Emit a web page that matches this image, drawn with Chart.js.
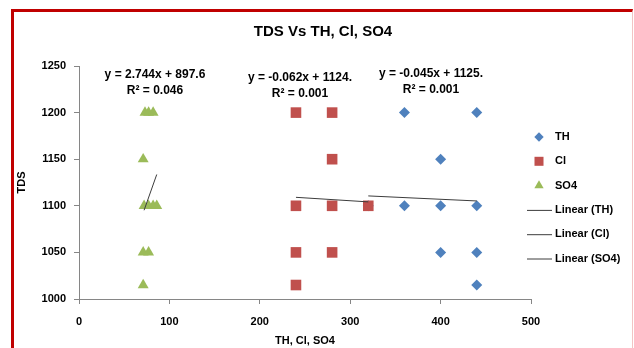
<!DOCTYPE html>
<html>
<head>
<meta charset="utf-8">
<script src="https://cdn.jsdelivr.net/npm/chart.js@4.4.0/dist/chart.umd.min.js"></script>
<style>
body { margin: 0; background: #fff; }
#korniza {
    position: absolute; left: 11px; top: 9px;
    width: 618px; height: 345px;
    border-left: 3px solid #c00000; border-top: 3px solid #c00000;
    border-right: 1px solid #f2c4c4;
}
canvas { display: block; }
</style>
</head>
<body>
<div id="korniza"><canvas id="grafiku" width="618" height="336"></canvas></div>
<script>
// te dhenat e lexuara nga grafiku
const thX = [320, 360, 360, 400, 400, 400, 440, 440, 440, 440];
const thY = [1100, 1200, 1100, 1150, 1100, 1050, 1200, 1100, 1050, 1015];
const clX = [240, 240, 240, 240, 280, 280, 280, 280, 320];
const clY = [1200, 1100, 1050, 1015, 1200, 1150, 1100, 1050, 1100];
const so4X = [73, 77, 82, 71, 72, 77, 82, 86, 71, 77, 71];
const so4Y = [1200, 1200, 1200, 1150, 1100, 1100, 1100, 1100, 1050, 1050, 1015];

// vijat e trendit (skajet)
const thTrendX = [320, 440];
const thTrendY = [1110.6, 1105.2];
const clTrendX = [240, 320];
const clTrendY = [1109.1, 1104.2];
const so4TrendX = [72, 86];
const so4TrendY = [1095.2, 1133.6];

const ekuacionet = [
    ['y = 2.744x + 897.6', 'R² = 0.046'],
    ['y = -0.062x + 1124.', 'R² = 0.001'],
    ['y = -0.045x + 1125.', 'R² = 0.001']
];

const fonti = "'Liberation Sans', Arial, sans-serif";
const ngjyraTrend = '#3c3c3c';

function pika(xs, ys) {
    return xs.map((x, i) => ({ x: x, y: ys[i] }));
}

const legjendaPlugin = {
    id: 'legjenda',
    afterDraw(chart, args, opts) {
        const ctx = chart.ctx;
        ctx.save();
        ctx.font = 'bold 11px ' + fonti;
        ctx.textBaseline = 'middle';
        chart.data.datasets.forEach((ds, i) => {
            const y = opts.top + i * opts.step;
            if (ds.showLine) {
                ctx.strokeStyle = ds.borderColor;
                ctx.lineWidth = 1;
                ctx.beginPath();
                ctx.moveTo(opts.lineX, y + 0.5);
                ctx.lineTo(opts.lineX + 25, y + 0.5);
                ctx.stroke();
            } else {
                ctx.fillStyle = ds.backgroundColor;
                Chart.helpers.drawPoint(ctx, {
                    pointStyle: ds.pointStyle,
                    radius: ds.pointRadius * 0.85,
                    borderWidth: 0,
                    rotation: 0
                }, opts.markerX, y);
            }
            ctx.fillStyle = '#000';
            ctx.textAlign = 'left';
            ctx.fillText(ds.label, opts.textX, y);
        });
        ctx.restore();
    }
};

const ekuacionPlugin = {
    id: 'ekuacionet',
    afterDraw(chart, args, opts) {
        const ctx = chart.ctx;
        ctx.save();
        ctx.font = 'bold 12px ' + fonti;
        ctx.fillStyle = '#000';
        ctx.textAlign = 'center';
        ctx.textBaseline = 'middle';
        opts.vendet.forEach((v, i) => {
            ctx.fillText(ekuacionet[i][0], v[0], v[1]);
            ctx.fillText(ekuacionet[i][1], v[0], v[1] + 16);
        });
        ctx.restore();
    }
};

const ctx = document.getElementById('grafiku').getContext('2d');
const grafiku = new Chart(ctx, {
    type: 'scatter',
    data: {
        datasets: [{
            label: 'TH',
            data: pika(thX, thY),
            backgroundColor: '#4f81bd',
            borderWidth: 0,
            pointStyle: 'rectRot',
            pointRadius: 5.5,
            order: 3
        }, {
            label: 'Cl',
            data: pika(clX, clY),
            backgroundColor: '#c0504d',
            borderWidth: 0,
            pointStyle: 'rect',
            pointRadius: 7.5,
            order: 2
        }, {
            label: 'SO4',
            data: pika(so4X, so4Y),
            backgroundColor: '#9bbb59',
            borderWidth: 0,
            pointStyle: 'triangle',
            pointRadius: 6.3,
            order: 1
        }, {
            label: 'Linear (TH)',
            data: pika(thTrendX, thTrendY),
            showLine: true,
            borderColor: ngjyraTrend,
            borderWidth: 1,
            pointRadius: 0,
            order: 0
        }, {
            label: 'Linear (Cl)',
            data: pika(clTrendX, clTrendY),
            showLine: true,
            borderColor: ngjyraTrend,
            borderWidth: 1,
            pointRadius: 0,
            order: 0
        }, {
            label: 'Linear (SO4)',
            data: pika(so4TrendX, so4TrendY),
            showLine: true,
            borderColor: ngjyraTrend,
            borderWidth: 1,
            pointRadius: 0,
            order: 0
        }]
    },
    options: {
        responsive: false,
        animation: false,
        layout: { padding: 0 },
        plugins: {
            legend: { display: false },
            tooltip: { enabled: false },
            title: {
                display: true,
                text: 'TDS Vs TH, Cl, SO4',
                color: '#000',
                font: { family: fonti, size: 15, weight: 'bold' },
                padding: { top: 11, bottom: 25 }
            },
            legjenda: { top: 125, step: 24.3, markerX: 525, lineX: 513, textX: 541 },
            ekuacionet: { vendet: [[141, 63], [286, 66], [417, 62]] }
        },
        scales: {
            x: {
                min: 0,
                max: 500,
                ticks: {
                    stepSize: 100,
                    color: '#000',
                    padding: 11,
                    font: { family: fonti, size: 11, weight: 'bold' }
                },
                grid: { drawOnChartArea: false, tickLength: 5, color: '#868686' },
                border: { color: '#868686' },
                title: {
                    display: true,
                    text: 'TH, Cl, SO4',
                    color: '#000',
                    font: { family: fonti, size: 11, weight: 'bold' },
                    padding: { top: 0, bottom: 0 }
                },
                afterFit: (s) => { s.height = 49; }
            },
            y: {
                min: 1000,
                max: 1250,
                ticks: {
                    stepSize: 50,
                    color: '#000',
                    padding: 8,
                    font: { family: fonti, size: 11, weight: 'bold' },
                    callback: (v) => String(v)
                },
                grid: { drawOnChartArea: false, tickLength: 5, color: '#868686' },
                border: { color: '#868686' },
                title: {
                    display: true,
                    text: 'TDS',
                    color: '#000',
                    font: { family: fonti, size: 11, weight: 'bold' },
                    padding: { top: 1, bottom: 0 }
                },
                afterFit: (s) => { s.width = 65; }
            },
            // bosht bosh ne te djathte, le vend per legjenden
            yLegj: {
                position: 'right',
                display: true,
                ticks: { display: false },
                grid: { display: false },
                border: { display: false },
                afterFit: (s) => { s.width = 101; }
            }
        }
    },
    plugins: [legjendaPlugin, ekuacionPlugin]
});
</script>
</body>
</html>
